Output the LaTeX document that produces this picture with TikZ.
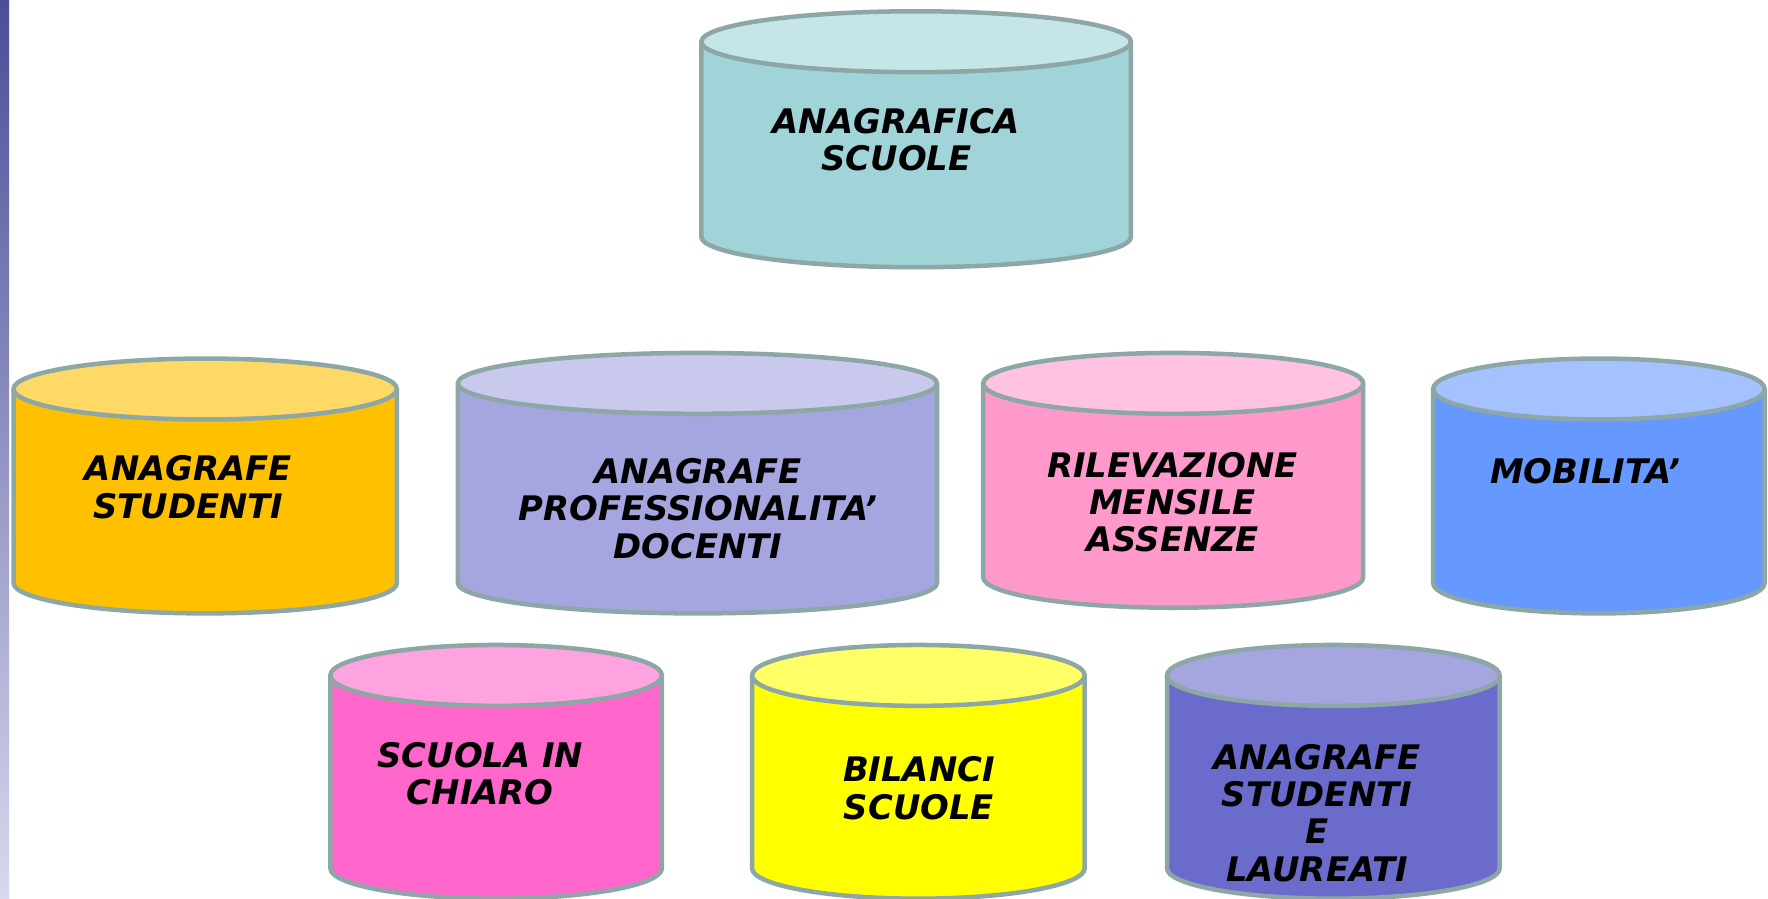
\documentclass[tikz,border=0pt]{standalone}
\usepackage{fontspec}
\setmainfont{DejaVu Sans}
\definecolor{cylline}{HTML}{8DA6A6}
\definecolor{barTop}{HTML}{4A4E98}
\definecolor{barBot}{HTML}{D8D8EE}
\definecolor{tealB}{HTML}{A0D4D9}\definecolor{tealT}{HTML}{C6E5E8}
\definecolor{yelB}{HTML}{FFC000}\definecolor{yelT}{HTML}{FFD966}
\definecolor{purB}{HTML}{A5A5DF}\definecolor{purT}{HTML}{C9C9EE}
\definecolor{pinkB}{HTML}{FF99CC}\definecolor{pinkT}{HTML}{FFC2E0}
\definecolor{bluB}{HTML}{6699FF}\definecolor{bluT}{HTML}{A3C2FF}
\definecolor{magB}{HTML}{FF66CC}\definecolor{magT}{HTML}{FFA3E0}
\definecolor{lemB}{HTML}{FFFF00}\definecolor{lemT}{HTML}{FFFF66}
\definecolor{dpB}{HTML}{6B6BCC}\definecolor{dpT}{HTML}{A5A5E0}
\tikzset{
  cyledge/.style={draw=cylline, line width=4pt, line join=round},
  lbl/.style={font=\fontsize{30}{33}\selectfont\bfseries\itshape, align=center, inner sep=0pt},
}
% #1 name, #2 x1, #3 x2, #4 y top-centre, #5 y bottom-centre, #6 ry, #7 body colour, #8 top colour
\newcommand\dbcyl[8]{%
  \pgfmathsetmacro\rxv{(#3-#2)/2}%
  \pgfmathsetmacro\cxv{(#3+#2)/2}%
  \fill[#7] (#2,#4) -- (#2,#5) arc[start angle=180,end angle=0,x radius=\rxv,y radius=#6] -- (#3,#4) -- cycle;
  \draw[cyledge] (#2,#4) -- (#2,#5) arc[start angle=180,end angle=0,x radius=\rxv,y radius=#6] -- (#3,#4);
  \filldraw[cyledge, fill=#8] (\cxv,#4) ellipse[x radius=\rxv, y radius=#6];
  \coordinate (#1) at (\cxv,{(#4+#5)/2});
}
\begin{document}
\begin{tikzpicture}[x=1pt,y=-1pt]
\useasboundingbox (0,0) rectangle (1568,797);
\fill[white] (0,0) rectangle (1568,797);
\shade[top color=barTop, bottom color=barBot] (0,0) rectangle (8,797);

\dbcyl{cA}{622}{1003}{37}{210}{27}{tealB}{tealT}
\dbcyl{cB}{12}{352}{345}{517}{27}{yelB}{yelT}
\dbcyl{cC}{406}{831}{340}{517}{27}{purB}{purT}
\dbcyl{cD}{872}{1209}{340}{512}{27}{pinkB}{pinkT}
\dbcyl{cE}{1271}{1565}{345}{517}{27}{bluB}{bluT}
\dbcyl{cF}{293}{587}{599}{770}{27}{magB}{magT}
\dbcyl{cG}{667}{962}{599}{770}{27}{lemB}{lemT}
\dbcyl{cH}{1035}{1330}{599}{770}{27}{dpB}{dpT}

\node[lbl] (tA) at (795,124) {ANAGRAFICA\\SCUOLE};
\node[lbl] (tB) at (167,432) {ANAGRAFE\\STUDENTI};
\node[lbl] (tC) at (619,451) {ANAGRAFE\\PROFESSIONALITA’\\DOCENTI};
\node[lbl] (tD) at (1040,445.5) {RILEVAZIONE\\MENSILE\\ASSENZE};
\node[lbl] (tE) at (1406,418) {MOBILITA’};
\node[lbl] (tF) at (426,686.5) {SCUOLA IN\\CHIARO};
\node[lbl] (tG) at (815,699) {BILANCI\\SCUOLE};
\node[lbl] (tH) at (1168,721) {ANAGRAFE\\STUDENTI\\E\\LAUREATI};
\end{tikzpicture}
\end{document}
